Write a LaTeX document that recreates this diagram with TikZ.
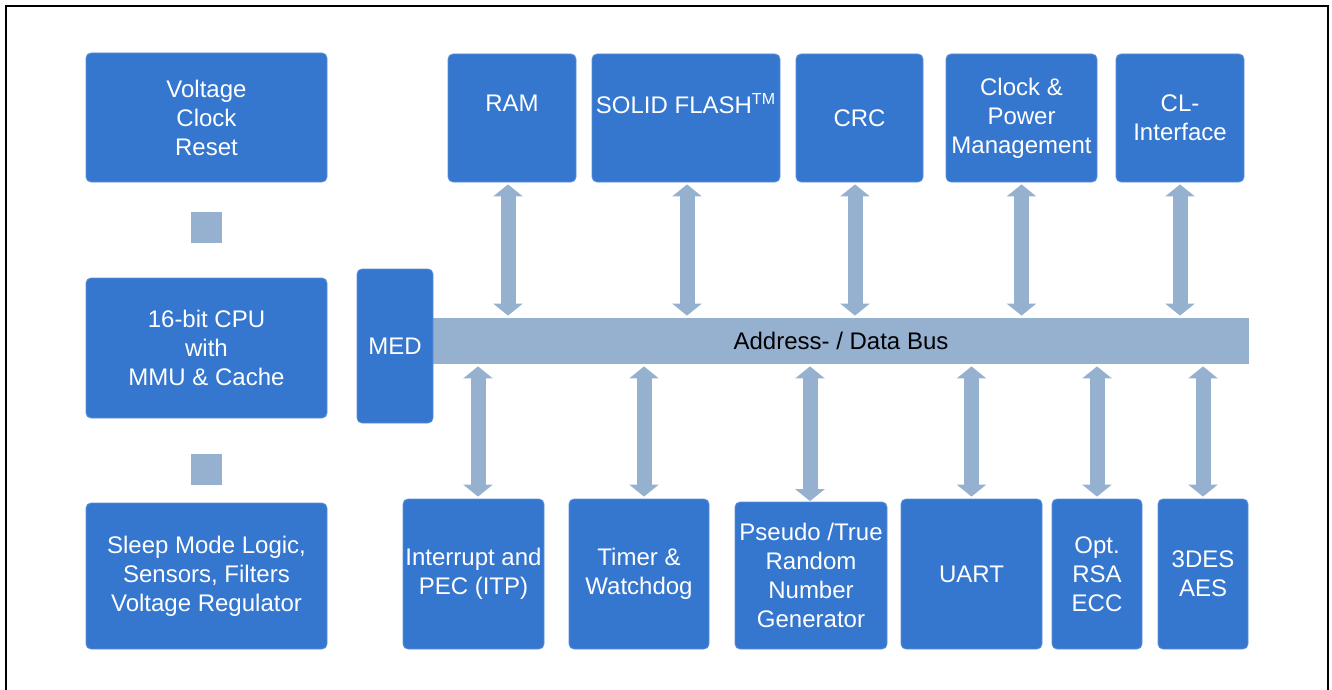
\documentclass[tikz,border=0pt]{standalone}
\usepackage{fontspec}
\setmainfont{Liberation Sans}
\usetikzlibrary{arrows.meta}
\definecolor{boxblue}{RGB}{53,118,206}
\definecolor{boxedge}{RGB}{95,145,215}
\definecolor{busblue}{RGB}{150,176,208}
\begin{document}
\begin{tikzpicture}[x=0.5pt,y=-0.5pt,
  blk/.style={fill=boxblue, draw=boxedge, line width=0.4pt, rounded corners=2.5pt,
    text=white, align=center, inner sep=0pt, font=\fontsize{12}{14.5}\selectfont},
  sq/.style={fill=busblue, inner sep=0pt, minimum size=15.5pt},
  link/.style={draw=busblue, line width=7.5pt,
    {Triangle[width=14.5pt,length=6pt]}-{Triangle[width=14.5pt,length=6pt]},
    shorten >=1pt, shorten <=1pt}
]
\useasboundingbox (0,0) rectangle (1332,690);
\draw[line width=1pt] (6,690) -- (6,6) -- (1328,6) -- (1328,690);

% left column
\node[blk, minimum width=120.5pt, minimum height=64.5pt] (vcr) at (206.5,117.5) {Voltage\\Clock\\Reset};
\node[sq] (sq1) at (206.5,227.5) {};
\node[blk, minimum width=120.5pt, minimum height=70pt] (cpu) at (206.5,348) {16-bit CPU\\with\\MMU \& Cache};
\node[sq] (sq2) at (206.5,469.5) {};
\node[blk, minimum width=120.5pt, minimum height=73pt] (sleep) at (206.5,576) {Sleep Mode Logic,\\Sensors, Filters\\Voltage Regulator};

% bus and MED
\node[fill=busblue, inner sep=0pt, minimum width=408pt, minimum height=23pt,
  font=\fontsize{12}{14.5}\selectfont] (bus) at (841,341) {Address- / Data Bus};
\node[blk, minimum width=38pt, minimum height=77pt] (med) at (395,346) {MED};

% top row
\node[blk, minimum width=64pt, minimum height=64pt] (ram) at (512,118) {RAM\\\phantom{A}};
\node[blk, minimum width=94pt, minimum height=64pt] (flash) at (686,118) {SOLID FLASH\textsuperscript{TM}\\\phantom{A}};
\node[blk, minimum width=63.5pt, minimum height=64pt] (crc) at (859.5,118) {CRC};
\node[blk, minimum width=75.5pt, minimum height=64pt] (cpm) at (1021.5,118) {Clock \&\\Power\\Management};
\node[blk, minimum width=64pt, minimum height=64pt] (cl) at (1180,118) {CL-\\Interface};

% bottom row
\node[blk, minimum width=70.5pt, minimum height=75pt] (itp) at (473.5,574) {Interrupt and\\PEC (ITP)};
\node[blk, minimum width=70pt, minimum height=75pt] (tim) at (639,574) {Timer \&\\Watchdog};
\node[blk, minimum width=76pt, minimum height=73.5pt] (rng) at (811,575.5) {Pseudo /True\\Random\\Number\\Generator};
\node[blk, minimum width=70.5pt, minimum height=75pt] (uart) at (971.5,574) {UART};
\node[blk, minimum width=45pt, minimum height=75pt] (rsa) at (1097,574) {Opt.\\RSA\\ECC};
\node[blk, minimum width=45pt, minimum height=75pt] (des) at (1203,574) {3DES\\AES};

% connectors top
\draw[link] ([xshift=-2pt]ram.south) -- ([xshift=-2pt]ram.south |- bus.north);
\draw[link] ([xshift=0.5pt]flash.south) -- ([xshift=0.5pt]flash.south |- bus.north);
\draw[link] ([xshift=-2.25pt]crc.south) -- ([xshift=-2.25pt]crc.south |- bus.north);
\draw[link] (cpm.south) -- (cpm.south |- bus.north);
\draw[link] (cl.south) -- (cl.south |- bus.north);
% connectors bottom
\draw[link] ([xshift=2.25pt]itp.north) -- ([xshift=2.25pt]itp.north |- bus.south);
\draw[link] ([xshift=2.5pt]tim.north) -- ([xshift=2.5pt]tim.north |- bus.south);
\draw[link] ([xshift=-0.5pt,yshift=-0.75pt]rng.north) -- ([xshift=-0.5pt]rng.north |- bus.south);
\draw[link] (uart.north) -- (uart.north |- bus.south);
\draw[link] (rsa.north) -- (rsa.north |- bus.south);
\draw[link] (des.north) -- (des.north |- bus.south);
\end{tikzpicture}
\end{document}
